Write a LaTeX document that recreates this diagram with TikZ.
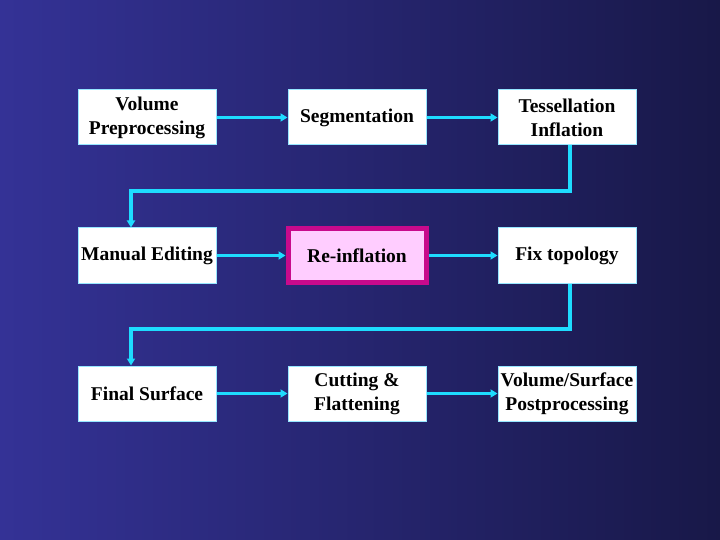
\documentclass[tikz,border=0pt]{standalone}
\usepackage{fontspec}
\setmainfont{Liberation Serif}
\usetikzlibrary{arrows.meta}
\definecolor{bgleft}{RGB}{52,50,150}
\definecolor{bgright}{RGB}{24,24,72}
\definecolor{flow}{RGB}{30,220,255}
\definecolor{boxedge}{RGB}{150,230,255}
\definecolor{magborder}{RGB}{200,10,140}
\definecolor{pinkfill}{RGB}{255,205,255}
\begin{document}
\begin{tikzpicture}[x=1pt,y=-1pt,
  stepbox/.style={draw=boxedge,line width=1pt,fill=white,minimum width=138pt,minimum height=55pt,inner sep=0pt,align=center,font=\fontsize{19.5}{24}\selectfont\bfseries,text=black},
  hibox/.style={stepbox,draw=magborder,line width=5pt,fill=pinkfill,minimum width=138pt,minimum height=54pt},
  flowline/.style={draw=flow,line width=3.5pt},
  flowarrow/.style={flowline,-{Triangle[length=7pt,width=8pt]}}]
\shade[left color=bgleft,right color=bgright] (0,0) rectangle (720,540);
\useasboundingbox (0,0) rectangle (720,540);
\node[stepbox] (vp) at (147,117.5) {Volume\\Preprocessing};
\node[stepbox] (seg) at (357,117.5) {Segmentation};
\node[stepbox] (tess) at (567,117.5) {Tessellation\\Inflation};
\node[stepbox] (man) at (147,255.5) {Manual Editing};
\node[hibox] (reinf) at (357,255.5) {Re-inflation};
\node[stepbox] (fix) at (567,255.5) {Fix topology};
\node[stepbox] (fin) at (147,393.5) {Final Surface};
\node[stepbox] (cut) at (357,393.5) {Cutting \&\\Flattening};
\node[stepbox] (post) at (567,393.5) {Volume/Surface\\Postprocessing};
\coordinate (t1) at (570,191);
\coordinate (t2) at (131,191);
\coordinate (f1) at (570,329);
\coordinate (f2) at (131,329);
\draw[flowarrow] (vp.east) -- (seg.west);
\draw[flowarrow] (seg.east) -- (tess.west);
\draw[flowarrow] (tess.south -| t1) -- (t1) -- (t2) -- (man.north -| t2);
\draw[flowarrow] (man.east) -- (reinf.west);
\draw[flowarrow] (reinf.east) -- (fix.west);
\draw[flowarrow] (fix.south -| f1) -- (f1) -- (f2) -- (fin.north -| f2);
\draw[flowarrow] (fin.east) -- (cut.west);
\draw[flowarrow] (cut.east) -- (post.west);
\end{tikzpicture}
\end{document}
